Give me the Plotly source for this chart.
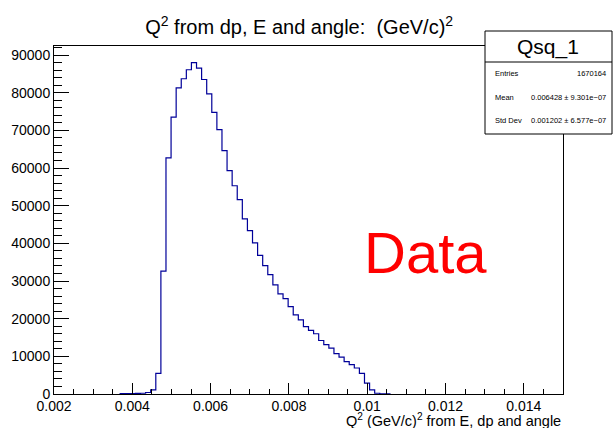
import numpy as np
import plotly.graph_objects as go

# ── histogram definition (ROOT TH1, 100 bins) ──
x_lo = 0.002
x_hi = 0.015
n_bins = 100
first_bin = 13
counts = [
    80, 100, 100, 150, 200, 400, 1100, 5500, 32600, 62700,
    73500, 81300, 83700, 86100, 88000, 86500, 83500, 79700, 74800, 70200,
    64600, 59300, 55300, 51600, 46500, 43400, 40100, 36800, 34100, 31700,
    29000, 26600, 25300, 23200, 21000, 19700, 17900, 16900, 16000, 14200,
    13100, 12200, 10700, 9800, 8600, 7800, 6900, 5500, 2900, 1100,
    200, 60, 30,
]
y_max = 92400

hist_name = "Qsq_1"
stats_rows = [
    ("Entries", "1670164"),
    ("Mean", "0.006428 ± 9.301e−07"),
    ("Std Dev", "0.001202 ± 6.577e−07"),
]

title = "Q<sup>2</sup> from dp, E and angle:  (GeV/c)<sup>2</sup>"
x_title = "Q<sup>2</sup> (GeV/c)<sup>2</sup> from E, dp and angle"

W, H = 613, 428
L, R, T, B = 54, 50, 46, 34
FONT = "Liberation Sans, Arial, Helvetica, sans-serif"
LINE = "#000099"


def px(x):
    return (x - L) / (W - L - R)


def py(y):
    return (H - B - y) / (H - T - B)


width = (x_hi - x_lo) / n_bins
edges = x_lo + width * np.arange(first_bin, first_bin + len(counts) + 1)
xs = [edges[0]] + list(edges)
ys = [0] + counts + [0]

fig = go.Figure()
fig.add_trace(
    go.Scatter(
        x=xs,
        y=ys,
        mode="lines",
        line=dict(color=LINE, width=1.2, shape="hv"),
        showlegend=False,
        hoverinfo="skip",
    )
)

# stats box
shapes = [
    dict(type="rect", xref="paper", yref="paper",
         x0=px(485), x1=px(612), y0=py(134), y1=py(31),
         line=dict(color="black", width=1), fillcolor="white", layer="above"),
    dict(type="line", xref="paper", yref="paper",
         x0=px(485), x1=px(612), y0=py(62), y1=py(62),
         line=dict(color="black", width=1), layer="above"),
]
ann = [
    dict(text=hist_name, x=px(548), y=py(47), xref="paper", yref="paper",
         showarrow=False, xanchor="center", yanchor="middle",
         font=dict(size=21, color="black", family=FONT)),
    dict(text=x_title, x=1, y=py(420), xref="paper", yref="paper",
         showarrow=False, xanchor="right", yanchor="middle",
         font=dict(size=14.5, color="black", family=FONT)),
    dict(text="Data", x=0.0115, y=37600, xref="x", yref="y",
         showarrow=False, xanchor="center", yanchor="middle",
         font=dict(size=58, color="#ff0000", family=FONT)),
]
for (lab, val), yy in zip(stats_rows, [73, 97, 120]):
    ann.append(dict(text=lab, x=px(493), y=py(yy), xref="paper", yref="paper",
                    showarrow=False, xanchor="left", yanchor="middle",
                    font=dict(size=7.5, color="black", family=FONT)))
    ann.append(dict(text=val, x=px(608), y=py(yy), xref="paper", yref="paper",
                    showarrow=False, xanchor="right", yanchor="middle",
                    font=dict(size=7.5, color="black", family=FONT)))

fig.update_layout(
    width=W,
    height=H,
    paper_bgcolor="white",
    plot_bgcolor="white",
    margin=dict(l=L, r=R, t=T, b=B),
    font=dict(family=FONT, color="black", size=14),
    title=dict(text=title, x=0.488, xanchor="center", y=1 - 27 / H,
               yanchor="middle", font=dict(size=20, family=FONT)),
    shapes=shapes,
    annotations=ann,
    xaxis=dict(
        range=[x_lo, x_hi],
        dtick=0.002,
        tick0=0.002,
        showgrid=False,
        zeroline=False,
        showline=True,
        linecolor="black",
        linewidth=1,
        mirror=True,
        ticks="inside",
        ticklen=11,
        tickcolor="black",
        minor=dict(ticks="inside", ticklen=5, dtick=0.0005, tickcolor="black"),
        tickfont=dict(size=14),
        ticklabelstandoff=-1,
    ),
    yaxis=dict(
        range=[0, y_max],
        dtick=10000,
        tickformat="d",
        showgrid=False,
        zeroline=False,
        showline=True,
        linecolor="black",
        linewidth=1,
        mirror=True,
        ticks="inside",
        ticklen=15,
        tickcolor="black",
        minor=dict(ticks="inside", ticklen=8, dtick=2000, tickcolor="black"),
        tickfont=dict(size=14),
    ),
)

fig.write_html(
    "out.html",
    config={"displayModeBar": False},
    post_script="document.body.style.margin='0';",
)
